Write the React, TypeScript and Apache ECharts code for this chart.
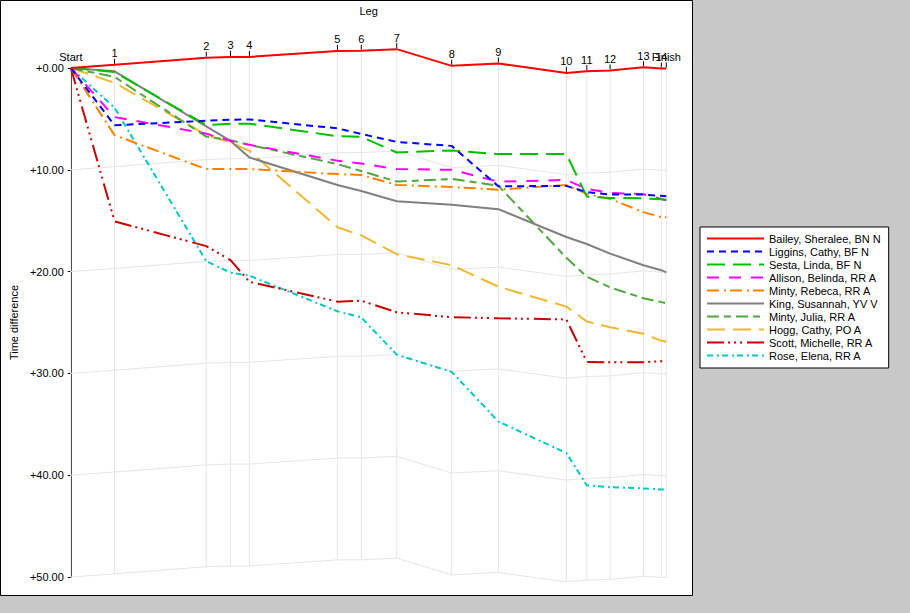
import React, { useEffect, useRef } from "react";
import * as echarts from "echarts";

// ---- data ----
const legLabels = ["Start", "1", "2", "3", "4", "5", "6", "7", "8", "9", "10", "11", "12", "13", "14", "Finish"];
const legPositions = [0, 4.4, 13.63, 16.07, 17.97, 26.83, 29.23, 32.8, 38.33, 43.03, 49.87, 51.93, 54.27, 57.63, 59.43, 59.93];

const runnerNames = [
  "Bailey, Sheralee, BN N",
  "Liggins, Cathy, BF N",
  "Sesta, Linda, BF N",
  "Allison, Belinda, RR A",
  "Minty, Rebeca, RR A",
  "King, Susannah, YV V",
  "Minty, Julia, RR A",
  "Hogg, Cathy, PO A",
  "Scott, Michelle, RR A",
  "Rose, Elena, RR A",
];

const bailey = [0, -0.31, -1.01, -1.09, -1.09, -1.68, -1.69, -1.85, -0.21, -0.44, 0.48, 0.31, 0.24, -0.07, 0.05, 0.05];
const liggins = [0, 5.63, 5.18, 5.08, 5.05, 5.93, 6.48, 7.26, 7.65, 11.62, 11.58, 12.2, 12.43, 12.43, 12.56, 12.6];
const sesta = [0, 0.39, 5.6, 5.47, 5.47, 6.7, 6.77, 8.3, 8.1, 8.46, 8.46, 12.63, 12.76, 12.8, 12.9, 12.93];
const allison = [0, 4.82, 6.45, 7.16, 7.55, 9.1, 9.38, 9.93, 10.0, 11.16, 11.0, 11.88, 12.27, 12.4, 12.86, 13.0];
const rebeca = [0, 6.6, 9.93, 9.93, 9.93, 10.42, 10.51, 11.49, 11.69, 11.95, 11.5, 12.37, 12.86, 14.16, 14.65, 14.65];
const king = [0, 0.33, 5.73, 7.16, 8.79, 11.49, 12.08, 13.09, 13.44, 13.87, 16.6, 17.29, 18.23, 19.37, 19.86, 20.08];
const julia = [0, 0.88, 6.74, 7.1, 7.55, 9.44, 10.12, 11.16, 10.9, 11.56, 18.65, 20.5, 21.55, 22.62, 23.0, 23.1];
const hogg = [0, 1.46, 6.57, 7.32, 8.14, 15.65, 16.44, 18.29, 19.37, 21.48, 23.44, 24.9, 25.46, 26.1, 26.8, 26.9];
const scott = [0, 15.07, 17.5, 18.88, 21.0, 22.95, 22.86, 24.0, 24.48, 24.58, 24.7, 28.87, 28.9, 28.9, 28.8, 28.8];
const rose = [0, 3.9, 18.98, 20.1, 20.4, 23.9, 24.5, 28.16, 29.85, 34.73, 37.82, 41.0, 41.18, 41.3, 41.4, 41.43];

const runnerValues = [bailey, liggins, sesta, allison, rebeca, king, julia, hogg, scott, rose];

const yTicks = [0, 10, 20, 30, 40, 50];
const gridOffsets = [10, 20, 30, 40, 50];

// ---- styles ----
const runnerColors = ["#ff0000", "#0000ff", "#00c000", "#ff00ff", "#ff8000", "#808080", "#4ea83c", "#f0b830", "#c80000", "#00c8c8"];
const runnerDashes: (number[] | "solid")[] = [
  "solid",
  [7, 5],
  [18, 8],
  [12, 10],
  [12, 5, 2, 4],
  "solid",
  [12, 5, 7, 5],
  [18, 8],
  [17, 4, 2, 4, 2, 4, 2, 5],
  [6, 4, 2, 3],
];

const FONT = '"Liberation Sans", Arial, sans-serif';
const GRID_COLOR = "#e6e6e6";

export default function App() {
  const ref = useRef<HTMLDivElement>(null);

  useEffect(() => {
    document.body.style.margin = "0";
    if (!ref.current) return;
    const chart = echarts.init(ref.current, undefined, { renderer: "svg" });

    const pts = (vals: number[]) => legPositions.map((x, i) => [x, vals[i]]);

    const gridSeries = gridOffsets.map((off) => ({
      type: "line",
      name: "grid" + off,
      data: legPositions.map((x, i) => [x, bailey[i] + off]),
      symbol: "none",
      clip: false,
      silent: true,
      z: 1,
      lineStyle: { color: GRID_COLOR, width: 1 },
      emphasis: { disabled: true },
    }));

    const legSeries = {
      type: "custom",
      name: "legs",
      silent: true,
      clip: false,
      z: 1,
      data: pts(bailey),
      encode: { x: 0, y: 1 },
      renderItem: (params: any, api: any) => {
        const x = api.value(0);
        const r = api.value(1);
        const p0 = api.coord([x, r]);
        const p1 = api.coord([x, r + 50]);
        const idx = params.dataIndex;
        const children: any[] = [
          {
            type: "line",
            shape: { x1: p0[0], y1: p0[1], x2: p1[0], y2: p1[1] },
            style: { stroke: GRID_COLOR, lineWidth: 1 },
          },
        ];
        if (idx > 0) {
          children.push({
            type: "line",
            shape: { x1: p0[0], y1: p0[1] - 1, x2: p0[0], y2: p0[1] - 6 },
            style: { stroke: "#000", lineWidth: 1 },
          });
        }
        children.push({
          type: "text",
          x: p0[0],
          y: p0[1] - 6,
          style: {
            text: legLabels[idx],
            textAlign: "center",
            textVerticalAlign: "bottom",
            font: "11px " + FONT,
            fill: "#000",
          },
        });
        return { type: "group", children };
      },
    };

    const runnerSeries = runnerNames.map((name, i) => ({
      type: "line",
      name,
      data: pts(runnerValues[i]),
      symbol: "none",
      clip: false,
      z: 3 + (runnerNames.length - i),
      lineStyle: { color: runnerColors[i], width: 2, type: runnerDashes[i] },
      itemStyle: { color: runnerColors[i] },
      emphasis: { disabled: true },
    }));

    chart.setOption({
      animation: false,
      backgroundColor: "#c8c8c8",
      graphic: [
        {
          type: "rect",
          z: -10,
          shape: { x: 0.5, y: 0.5, width: 692, height: 595 },
          style: { fill: "#ffffff", stroke: "#000000", lineWidth: 1 },
          silent: true,
        },
      ],
      grid: { left: 67, top: 65, width: 599.3, height: 512 },
      xAxis: {
        type: "value",
        position: "top",
        min: 0,
        max: legPositions[legPositions.length - 1],
        axisLine: { show: false },
        axisTick: { show: false },
        axisLabel: { show: false },
        splitLine: { show: false },
        name: "Leg",
        nameLocation: "middle",
        nameGap: 52,
        nameTextStyle: { fontSize: 11, fontFamily: FONT, color: "#000" },
      },
      yAxis: {
        type: "value",
        inverse: true,
        min: yTicks[0],
        max: yTicks[yTicks.length - 1],
        interval: 10,
        axisLine: { show: true, lineStyle: { color: "#000", width: 1 } },
        axisTick: { show: true, length: 3, lineStyle: { color: "#000" } },
        axisLabel: {
          margin: 7,
          color: "#000",
          fontSize: 11,
          fontFamily: FONT,
          formatter: (v: number) => "+" + v.toFixed(2),
        },
        splitLine: { show: false },
        name: "Time difference",
        nameLocation: "middle",
        nameRotate: 90,
        nameGap: 47,
        nameTextStyle: { fontSize: 11, fontFamily: FONT, color: "#000" },
      },
      legend: {
        orient: "vertical",
        left: 700,
        top: 227,
        padding: [5, 8, 6, 6],
        itemWidth: 57,
        itemHeight: 13,
        itemGap: 0,
        backgroundColor: "#ffffff",
        borderColor: "#000000",
        borderWidth: 1,
        borderRadius: 0,
        selectedMode: false,
        itemStyle: { opacity: 0 },
        data: runnerNames,
        textStyle: { fontSize: 11, fontFamily: FONT, color: "#000", lineHeight: 13 },
      },
      series: [...gridSeries, legSeries, ...runnerSeries],
    });

    return () => chart.dispose();
  }, []);

  return (
    <div style={{ width: 910, height: 613, background: "#c8c8c8" }}>
      <div ref={ref} style={{ width: 910, height: 613 }} />
    </div>
  );
}
